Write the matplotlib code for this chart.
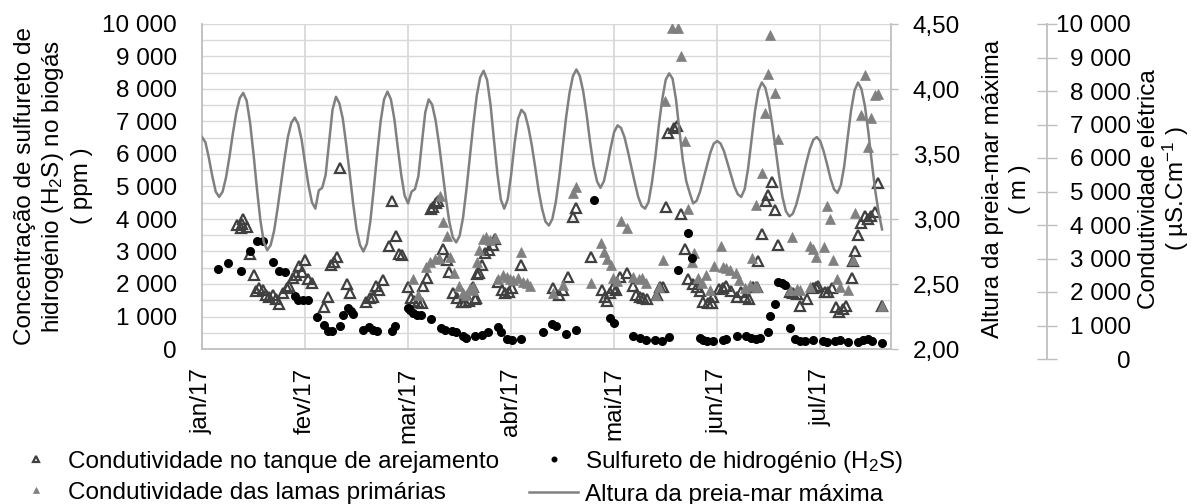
import matplotlib
matplotlib.use("Agg")
import matplotlib.pyplot as plt
from matplotlib.ticker import FuncFormatter, MultipleLocator

plt.rcParams['font.family'] = ['Liberation Sans', 'DejaVu Sans']
plt.rcParams['mathtext.fontset'] = 'custom'
plt.rcParams['mathtext.rm'] = 'Liberation Sans'
plt.rcParams['mathtext.it'] = 'Liberation Sans:italic'
plt.rcParams['mathtext.default'] = 'regular'

FS = 17.5

# x axis: days counted from 1 January 2017, labelled every 30 days
month_ticks = [0, 30, 60, 90, 120, 150, 180]
month_labels = ['jan/17', 'fev/17', 'mar/17', 'abr/17', 'mai/17', 'jun/17', 'jul/17']

# Maximum high-tide height (m), one value per day
tide_day = list(range(199))
tide_m = [
    3.63, 3.59, 3.47, 3.33, 3.21, 3.17, 3.21, 3.32, 3.48, 3.66,
    3.82, 3.93, 3.97, 3.91, 3.74, 3.50, 3.23, 2.99, 2.82, 2.76,
    2.80, 2.91, 3.08, 3.27, 3.46, 3.63, 3.74, 3.78, 3.73, 3.61,
    3.43, 3.26, 3.13, 3.08, 3.22, 3.24, 3.34, 3.59, 3.84, 3.94,
    3.89, 3.77, 3.57, 3.35, 3.12, 2.92, 2.80, 2.75, 2.81, 2.98,
    3.23, 3.50, 3.75, 3.92, 3.98, 3.92, 3.77, 3.55, 3.34, 3.18,
    3.12, 3.21, 3.23, 3.33, 3.58, 3.82, 3.92, 3.88, 3.76, 3.58,
    3.37, 3.16, 2.98, 2.86, 2.82, 2.87, 3.01, 3.23, 3.48, 3.73,
    3.95, 4.09, 4.14, 4.07, 3.88, 3.61, 3.35, 3.15, 3.08, 3.15,
    3.34, 3.58, 3.77, 3.84, 3.81, 3.71, 3.57, 3.40, 3.22, 3.08,
    2.98, 2.95, 3.00, 3.13, 3.32, 3.55, 3.78, 3.97, 4.10, 4.15,
    4.10, 3.98, 3.80, 3.59, 3.41, 3.29, 3.24, 3.29, 3.41, 3.55,
    3.67, 3.72, 3.70, 3.63, 3.52, 3.40, 3.28, 3.17, 3.10, 3.08,
    3.13, 3.28, 3.48, 3.72, 3.92, 4.07, 4.12, 4.08, 3.92, 3.68,
    3.45, 3.29, 3.20, 3.12, 3.14, 3.21, 3.31, 3.41, 3.51, 3.58,
    3.60, 3.58, 3.52, 3.43, 3.34, 3.25, 3.19, 3.17, 3.23, 3.39,
    3.61, 3.83, 3.99, 4.05, 4.01, 3.90, 3.73, 3.54, 3.34, 3.17,
    3.06, 3.02, 3.04, 3.11, 3.21, 3.33, 3.44, 3.54, 3.61, 3.63,
    3.60, 3.52, 3.42, 3.31, 3.23, 3.20, 3.26, 3.41, 3.63, 3.84,
    3.99, 4.05, 4.00, 3.87, 3.67, 3.44, 3.22, 3.05, 2.92,
]

# Hydrogen sulphide in the biogas (ppm)
h2s_day = [
    4.7, 7.5, 11.3, 14.0, 15.9, 17.7, 20.8, 22.5, 24.3, 27.2,
    28.0, 29.5, 31.0, 33.6, 35.5, 36.8, 37.8, 40.2, 41.1, 42.4,
    43.3, 44.0, 46.8, 48.7, 49.7, 50.9, 55.2, 56.2, 59.9, 60.6,
    61.5, 62.7, 63.7, 66.6, 69.6, 70.7, 72.7, 73.9, 76.1, 76.9,
    79.5, 81.4, 83.4, 86.3, 87.0, 88.9, 90.2, 92.8, 99.4, 102.0,
    103.1, 105.9, 108.8, 114.2, 118.8, 119.9, 125.6, 127.5, 129.3, 131.9,
    133.8, 136.0, 138.7, 141.6, 142.6, 145.0, 146.0, 147.1, 148.9, 151.7,
    152.7, 155.7, 158.4, 159.8, 161.3, 162.5, 164.9, 165.5, 166.8, 167.8,
    168.8, 169.7, 171.2, 172.6, 174.1, 175.5, 178.0, 180.9, 181.9, 184.3,
    185.7, 188.2, 191.1, 192.5, 194.0, 195.2, 197.9,
]
h2s_ppm = [
    2460, 2660, 2410, 3030, 3330, 3330, 2690, 2410, 2370, 1630,
    1510, 1510, 1510, 990, 740, 560, 560, 720, 1050, 1250,
    1180, 1070, 600, 690, 600, 560, 560, 720, 1270, 1200,
    1100, 1050, 1050, 910, 640, 600, 550, 530, 400, 350,
    400, 430, 530, 690, 530, 300, 280, 300, 530, 760,
    710, 450, 580, 4580, 940, 790, 400, 330, 280, 280,
    260, 360, 2430, 3560, 2790, 350, 280, 240, 240, 280,
    300, 400, 400, 350, 300, 330, 530, 1020, 1370, 2070,
    2020, 1970, 660, 300, 260, 260, 280, 250, 220, 260,
    280, 220, 220, 280, 300, 260, 170,
]

# Electrical conductivity in the aeration tank (uS/cm)
aer_day = [
    10.1, 11.3, 11.7, 12.0, 13.0, 14.0, 15.0, 15.7, 16.7, 17.7,
    18.6, 19.6, 20.8, 21.5, 22.5, 23.5, 24.7, 25.4, 26.6, 27.4,
    28.3, 29.0, 30.0, 31.0, 32.0, 35.6, 36.6, 37.6, 38.4, 39.4,
    40.2, 42.1, 43.1, 47.7, 48.9, 49.7, 50.7, 51.6, 52.6, 54.3,
    55.2, 56.4, 57.3, 58.2, 59.9, 60.8, 61.8, 63.0, 64.0, 64.4,
    65.4, 66.7, 67.3, 68.1, 68.8, 70.3, 71.2, 72.0, 73.2, 74.1,
    75.6, 76.6, 77.8, 79.0, 79.5, 79.8, 80.2, 80.7, 81.4, 82.4,
    83.6, 84.6, 85.3, 86.3, 87.3, 88.2, 89.5, 90.4, 92.8, 102.1,
    104.0, 105.2, 106.6, 107.9, 108.9, 113.4, 116.4, 117.4, 118.0, 118.8,
    119.8, 120.6, 121.7, 123.6, 125.4, 126.4, 127.5, 128.5, 129.5, 132.4,
    133.3, 134.1, 135.1, 135.7, 137.4, 138.2, 139.6, 140.6, 141.6, 143.0,
    144.0, 145.0, 146.0, 147.4, 148.4, 148.9, 150.6, 151.8, 152.7, 153.9,
    155.7, 156.8, 158.1, 159.3, 160.5, 161.5, 161.8, 162.9, 164.2, 164.9,
    165.9, 166.8, 167.8, 171.2, 172.2, 173.2, 174.1, 176.0, 178.0, 178.7,
    179.4, 181.4, 182.3, 183.3, 184.6, 185.5, 186.5, 187.5, 189.1, 189.4,
    190.1, 191.1, 192.0, 193.0, 194.0, 194.9, 195.9, 196.9, 197.9,
]
aer_cond = [
    3820, 3710, 3860, 3990, 3760, 2920, 2280, 1790, 1870, 1820,
    1660, 1610, 1660, 1530, 1400, 1730, 1870, 1940, 2170, 2280,
    2550, 2380, 2740, 2140, 2020, 1300, 1590, 2580, 2690, 2820,
    5560, 2000, 1730, 1460, 1560, 1610, 1940, 1820, 2120, 3170,
    4560, 3480, 2920, 2890, 1920, 1560, 1490, 1460, 1430, 1940,
    2170, 4300, 4380, 4480, 4560, 3070, 2740, 2380, 1710, 1560,
    1460, 1460, 1490, 1920, 1530, 1560, 2310, 2350, 2580, 2960,
    3050, 3200, 3380, 2070, 1820, 1710, 1760, 1870, 2580, 1870,
    1660, 1820, 2220, 4070, 4330, 2820, 1820, 1610, 1490, 1710,
    1870, 1820, 2220, 2330, 1940, 1660, 1610, 1560, 1530, 1660,
    1920, 1900, 4360, 6640, 6790, 6860, 4140, 3070, 2140, 2000,
    1900, 1790, 1460, 1430, 1430, 1610, 1840, 1870, 1940, 1790,
    1610, 1760, 1590, 1530, 1920, 1900, 2700, 3540, 4560, 4740,
    5150, 4280, 3200, 1760, 1730, 1690, 1320, 1530, 1870, 1900,
    1940, 1760, 1760, 1870, 1300, 1150, 1220, 1320, 2170, 2720,
    3020, 3510, 3870, 4090, 3990, 4090, 4220, 5100, 1320,
]

# Electrical conductivity of the primary sludge (uS/cm)
prim_day = [
    61.3, 63.0, 65.2, 66.4, 67.8, 69.1, 69.3, 70.3, 71.2, 72.2,
    73.4, 74.9, 75.9, 76.9, 78.0, 78.8, 79.0, 80.0, 80.7, 81.7,
    82.7, 83.8, 85.3, 86.3, 87.7, 88.7, 89.7, 90.6, 92.1, 92.8,
    93.5, 94.5, 95.5, 102.3, 105.2, 107.9, 108.9, 113.4, 116.2, 117.1,
    118.0, 119.0, 119.7, 120.7, 121.9, 123.8, 125.6, 127.1, 128.0, 129.3,
    132.2, 133.1, 134.1, 134.8, 136.7, 138.7, 139.6, 140.6, 141.6, 142.6,
    143.2, 144.5, 145.5, 146.7, 148.0, 149.0, 151.0, 151.8, 152.7, 153.7,
    155.5, 156.4, 158.1, 159.5, 160.0, 161.0, 161.2, 161.7, 162.9, 163.9,
    164.7, 165.4, 166.8, 167.8, 171.2, 171.7, 173.2, 174.1, 176.9, 176.9,
    177.9, 178.9, 181.0, 181.9, 182.8, 183.8, 184.8, 185.8, 188.2, 189.4,
    190.1, 192.0, 193.0, 194.0, 194.9, 195.9, 196.9, 197.9,
]
prim_cond = [
    2140, 1660, 2510, 2690, 2760, 2790, 4710, 3920, 3480, 2820,
    2350, 1940, 1730, 1660, 1870, 1900, 1830, 2690, 3050, 3380,
    3440, 3350, 3400, 2140, 2280, 2220, 2140, 2120, 2170, 2990,
    2070, 2020, 1940, 1730, 1970, 4790, 4980, 2040, 3250, 2990,
    2760, 2580, 2170, 2100, 3950, 3710, 2220, 2140, 2170, 2020,
    1660, 1900, 2740, 7640, 9870, 9870, 9020, 6410, 4300, 2690,
    2960, 2170, 2020, 2280, 1820, 2550, 3180, 2510, 2480, 2430,
    2350, 2120, 1870, 1970, 2790, 1940, 4430, 1900, 5420, 7270,
    8460, 9650, 7870, 6450, 1820, 3460, 1840, 1820, 1920, 3170,
    3070, 2820, 3150, 4400, 3990, 2740, 2140, 1920, 1820, 2740,
    4190, 7200, 8430, 6210, 7100, 7820, 7850, 1320,
]

W, H = 1195, 504
fig = plt.figure(figsize=(W / 100, H / 100), dpi=100)

grid_c = '#d9d9d9'
axis_c = '#bfbfbf'


def thousands(v, _pos):
    return f"{int(round(v)):,}".replace(",", " ")


def metres(v, _pos):
    return f"{v:.2f}".replace(".", ",")


ax = fig.add_axes([202 / W, 1 - 349 / H, (891 - 202) / W, (349 - 24) / H])
ax.set_xlim(0, 200.6)
ax.set_ylim(0, 10000)
ax.yaxis.set_major_locator(MultipleLocator(1000))
ax.yaxis.set_minor_locator(MultipleLocator(500))
ax.yaxis.set_major_formatter(FuncFormatter(thousands))
ax.set_xticks(month_ticks)
ax.set_xticklabels(month_labels, rotation=90)
ax.grid(axis='y', which='both', color=grid_c, lw=1.0)
ax.grid(axis='x', which='major', color=grid_c, lw=1.3)
ax.set_axisbelow(True)
ax.tick_params(axis='x', length=0, pad=13.5, labelsize=FS)
ax.tick_params(axis='y', which='both', length=0, pad=18, labelsize=FS)
for side in ('top', 'right'):
    ax.spines[side].set_visible(False)
for side in ('left', 'bottom'):
    ax.spines[side].set_color(axis_c)
    ax.spines[side].set_linewidth(1.3)

aer, = ax.plot(aer_day, aer_cond, ls='none', marker='^', ms=7, mfc='none',
               mec='#404040', mew=1.6, zorder=3)
prim, = ax.plot(prim_day, prim_cond, ls='none', marker='^', ms=6.5,
                mfc='#808080', mec='#808080', mew=0.5, zorder=3)
h2s, = ax.plot(h2s_day, h2s_ppm, ls='none', marker='o', ms=5.5,
               mfc='black', mec='black', zorder=4)

# Tide height on its own scale at the right of the plot
ax2 = ax.twinx()
ax2.set_ylim(2.0, 4.5)
ax2.yaxis.set_major_locator(MultipleLocator(0.5))
ax2.yaxis.set_major_formatter(FuncFormatter(metres))
tide, = ax2.plot(tide_day, tide_m, color='#808080', lw=1.8, zorder=5)
for side in ('top', 'left', 'bottom'):
    ax2.spines[side].set_visible(False)
ax2.spines['right'].set_color(axis_c)
ax2.spines['right'].set_linewidth(1.3)
ax2.tick_params(axis='y', direction='out', length=5, width=1.0, color=axis_c,
                pad=10.8, labelsize=FS)

# Stand-alone conductivity scale
ax3 = fig.add_axes([1046.7 / W, 1 - 359 / H, 0.0005, (359 - 24) / H])
ax3.set_ylim(0, 10000)
ax3.set_yticks(range(0, 10001, 1000))
ax3.yaxis.set_major_formatter(FuncFormatter(thousands))
ax3.set_xticks([])
ax3.patch.set_visible(False)
for side in ('top', 'right', 'bottom'):
    ax3.spines[side].set_visible(False)
ax3.spines['left'].set_color(axis_c)
ax3.spines['left'].set_linewidth(1.3)
ax3.tick_params(axis='y', direction='inout', length=14.4, width=1.0, color=axis_c,
                left=True, right=False, labelleft=False, labelright=True,
                pad=52.8, labelsize=FS)
for t in ax3.yaxis.get_major_ticks():
    t.label2.set_horizontalalignment('right')

# Axis titles
fig.text(53 / W, 1 - 186 / H,
         "Concentração de sulfureto de\nhidrogénio (H$_2$S) no biogás\n( ppm )",
         rotation=90, ha='center', va='center', multialignment='center',
         fontsize=FS, linespacing=1.25)
fig.text(1006.5 / W, 1 - 189 / H, "Altura da preia-mar máxima\n( m )",
         rotation=90, ha='center', va='center', multialignment='center',
         fontsize=FS, linespacing=1.3)
fig.text(1164.5 / W, 1 - 189 / H, "Condutividade elétrica\n( µS.Cm$^{-1}$ )",
         rotation=90, ha='center', va='center', multialignment='center',
         fontsize=FS, linespacing=1.0)

fig.legend(handles=[aer, prim, h2s, tide],
           labels=['Condutividade no tanque de arejamento',
                   'Condutividade das lamas primárias',
                   'Sulfureto de hidrogénio (H$_2$S)',
                   'Altura da preia-mar máxima'],
           ncol=2, loc='upper left', bbox_to_anchor=(12 / W, 1 - 449 / H),
           frameon=False, fontsize=FS, markerscale=0.6, handlelength=2.0,
           handletextpad=0.3, columnspacing=1.25, labelspacing=0.35,
           borderpad=0, borderaxespad=0)

fig.savefig('out.png', dpi=100)
